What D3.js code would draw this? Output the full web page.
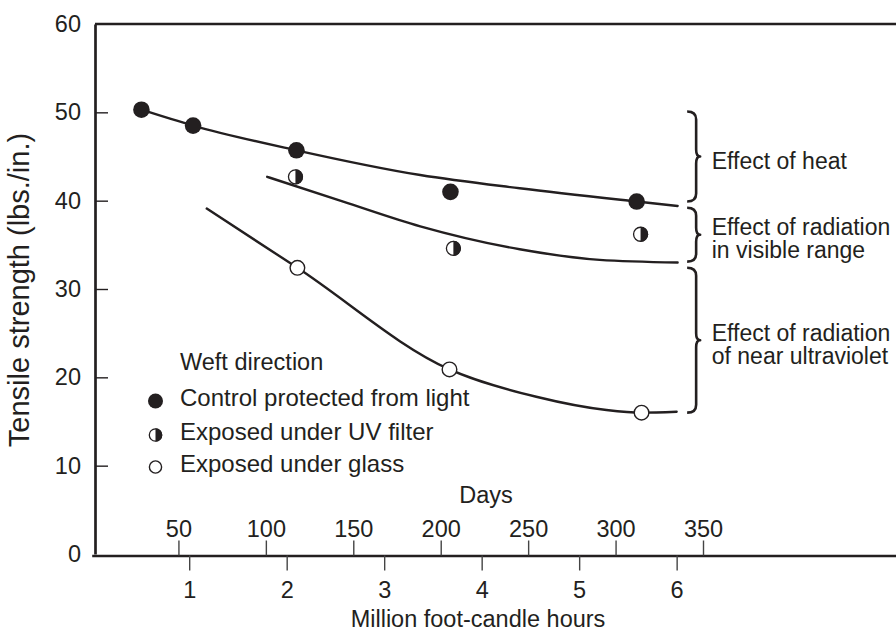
<!DOCTYPE html>
<html>
<head>
<meta charset="utf-8">
<script src="https://cdn.jsdelivr.net/npm/d3@7"></script>
<style>
  html, body { margin: 0; padding: 0; background: #fff; }
  svg { display: block; }
  text { font-family: "Liberation Sans", Arial, Helvetica, sans-serif; fill: #231f20; }
</style>
</head>
<body>
<svg id="chart" width="896" height="634"></svg>
<script>
// Tensile strength (lbs./in.) against exposure in million foot-candle hours
const controlX = [0.51, 1.04, 2.10, 3.68, 5.59];
const controlY = [50.3, 48.5, 45.7, 41.0, 39.9];
const uvX = [2.09, 3.71, 5.63];
const uvY = [42.7, 34.6, 36.2];
const glassX = [2.11, 3.67, 5.64];
const glassY = [32.4, 20.9, 16.0];

// Hand-fitted trend curves through each series
const controlCurveX = [0.51, 1.04, 2.10, 3.37, 4.39, 5.59, 6.01];
const controlCurveY = [50.3, 48.5, 45.7, 42.9, 41.4, 39.9, 39.4];
const uvCurveX = [1.80, 2.58, 3.37, 4.39, 5.21, 6.01];
const uvCurveY = [42.7, 39.9, 37.1, 34.5, 33.3, 33.0];
const glassCurveX = [1.18, 2.11, 3.67, 4.56, 5.28, 5.64, 6.00];
const glassCurveY = [39.1, 32.4, 20.9, 17.8, 16.3, 16.0, 16.1];

// Axis ticks
const yTicks = [0, 10, 20, 30, 40, 50, 60];
const hourTicks = [1, 2, 3, 4, 5, 6];
const dayTicks = [50, 100, 150, 200, 250, 300, 350];

// Bracketed effects on the right
const braceLo = [39.9, 33.1, 16.0];
const braceHi = [50.1, 39.2, 32.4];
const braceLabels = [
  ["Effect of heat"],
  ["Effect of radiation", "in visible range"],
  ["Effect of radiation", "of near ultraviolet"]
];

// Legend
const legendTitle = "Weft direction";
const legendNames = ["Control protected from light", "Exposed under UV filter", "Exposed under glass"];
const legendKinds = ["filled", "half", "open"];

const INK = "#231f20";
const FONT = 23.5;

const svg = d3.select("#chart");

const x = d3.scaleLinear().domain([0, 8.25]).range([91.7, 896]);
const xDays = d3.scaleLinear().domain([0, 350]).range([91, 703]);
const y = d3.scaleLinear().domain([0, 60]).range([554, 24]);
const axisX = 95;
const axisY = 555.5;

// Frame: top rule
svg.append("line")
  .attr("x1", axisX).attr("x2", 896)
  .attr("y1", y(60)).attr("y2", y(60))
  .attr("stroke", INK).attr("stroke-width", 2.7);

// Left axis with inward ticks
const gy = svg.append("g")
  .attr("transform", `translate(${axisX},0)`)
  .call(d3.axisLeft(y).tickValues(yTicks).tickSizeInner(-13).tickSizeOuter(0).tickPadding(14));
gy.select(".domain").attr("stroke", INK).attr("stroke-width", 2.7);
gy.selectAll(".tick line").attr("stroke", INK).attr("stroke-width", 1.4);
gy.selectAll(".tick").filter(d => d === 0 || d === 60).select("line").remove();
gy.selectAll(".tick text").attr("font-size", FONT).attr("font-family", null).attr("fill", INK);

// Bottom axis: million foot-candle hours
const gx = svg.append("g")
  .attr("transform", `translate(0,${axisY})`)
  .call(d3.axisBottom(x).tickValues(hourTicks).tickSizeInner(15).tickSizeOuter(0).tickPadding(11));
gx.select(".domain").attr("stroke", INK).attr("stroke-width", 2.7);
gx.selectAll(".tick line").attr("stroke", "#444").attr("stroke-width", 1.4);
gx.selectAll(".tick text").attr("font-size", FONT).attr("font-family", null).attr("fill", INK);

// Days scale drawn on the same baseline, ticks pointing up
const gd = svg.append("g")
  .attr("transform", `translate(0,${axisY})`)
  .call(d3.axisTop(xDays).tickValues(dayTicks).tickSizeInner(15).tickSizeOuter(0).tickPadding(4));
gd.select(".domain").remove();
gd.selectAll(".tick line").attr("stroke", "#444").attr("stroke-width", 1.4);
gd.selectAll(".tick text").attr("font-size", FONT).attr("font-family", null).attr("fill", INK);

// Axis titles
svg.append("text")
  .attr("x", 486).attr("y", 503)
  .attr("text-anchor", "middle").attr("font-size", FONT)
  .text("Days");
svg.append("text")
  .attr("x", 478).attr("y", 627)
  .attr("text-anchor", "middle").attr("font-size", FONT)
  .text("Million foot-candle hours");
svg.append("text")
  .attr("transform", "translate(29,290) rotate(-90)")
  .attr("text-anchor", "middle").attr("font-size", 29)
  .text("Tensile strength (lbs./in.)");

// Trend curves
const line = d3.line()
  .x(d => x(d[0])).y(d => y(d[1]))
  .curve(d3.curveMonotoneX);
const curves = [
  d3.zip(controlCurveX, controlCurveY),
  d3.zip(uvCurveX, uvCurveY),
  d3.zip(glassCurveX, glassCurveY)
];
svg.append("g").selectAll("path")
  .data(curves)
  .join("path")
  .attr("d", line)
  .attr("fill", "none")
  .attr("stroke", INK)
  .attr("stroke-width", 2.4)
  .attr("stroke-linecap", "round");

// Marker symbols
function drawMarker(g, kind, r) {
  if (kind === "filled") {
    g.append("circle").attr("r", r).attr("fill", INK);
  } else if (kind === "half") {
    g.append("circle").attr("r", r - 0.6).attr("fill", "#fff").attr("stroke", INK).attr("stroke-width", 1.3);
    g.append("path")
      .attr("d", `M0,${-r} A${r},${r} 0 0 1 0,${r} Z`)
      .attr("fill", INK);
  } else {
    g.append("circle").attr("r", r - 0.7).attr("fill", "#fff").attr("stroke", INK).attr("stroke-width", 1.4);
  }
}

const seriesPoints = [
  { kind: "filled", r: 8.3, pts: d3.zip(controlX, controlY) },
  { kind: "half", r: 7.6, pts: d3.zip(uvX, uvY) },
  { kind: "open", r: 8.0, pts: d3.zip(glassX, glassY) }
];
seriesPoints.forEach(s => {
  s.pts.forEach(p => {
    const g = svg.append("g").attr("transform", `translate(${x(p[0])},${y(p[1])})`);
    drawMarker(g, s.kind, s.r);
  });
});

// Braces marking each effect
const braceX = x(6.2);
const braceG = svg.append("g");
braceLo.forEach((lo, i) => {
  const top = y(braceHi[i]);
  const bot = y(lo);
  const mid = (top + bot) / 2;
  const x0 = braceX;
  const d = `M${x0 - 9},${top} Q${x0},${top} ${x0},${top + 8}` +
            ` L${x0},${mid - 7} Q${x0},${mid} ${x0 + 4},${mid}` +
            ` Q${x0},${mid} ${x0},${mid + 7}` +
            ` L${x0},${bot - 8} Q${x0},${bot} ${x0 - 9},${bot}`;
  braceG.append("path")
    .attr("d", d)
    .attr("fill", "none")
    .attr("stroke", INK)
    .attr("stroke-width", 2.6)
    .attr("stroke-linejoin", "round");
  const lines = braceLabels[i];
  lines.forEach((t, j) => {
    braceG.append("text")
      .attr("x", x(6.36))
      .attr("y", mid + 12 + (j - (lines.length - 1) / 2) * 23)
      .attr("font-size", 23)
      .text(t);
  });
});

// Legend
const legend = svg.append("g");
legend.append("text")
  .attr("x", 180).attr("y", 370)
  .attr("font-size", FONT)
  .text(legendTitle);
const legendRowY = [401, 435, 467];
const legendBase = [406, 440, 472];
legendNames.forEach((name, i) => {
  const g = legend.append("g").attr("transform", `translate(155.5,${legendRowY[i]})`);
  drawMarker(g, legendKinds[i], legendKinds[i] === "filled" ? 7.5 : 6.8);
  legend.append("text")
    .attr("x", 180).attr("y", legendBase[i])
    .attr("font-size", 24)
    .text(name);
});
</script>
</body>
</html>
